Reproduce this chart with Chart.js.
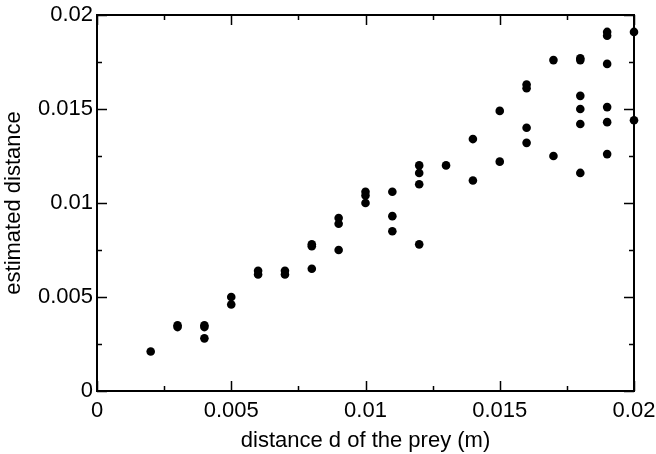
<!DOCTYPE html>
<html>
<head>
<meta charset="utf-8">
<script src="https://cdn.jsdelivr.net/npm/chart.js@4/dist/chart.umd.min.js"></script>
<style>
    html, body { margin: 0; padding: 0; background: #ffffff; }
    #cadre { width: 656px; height: 454px; }
</style>
</head>
<body>
<div id="cadre"><canvas id="g_prey"></canvas></div>
<script>
//Les données
const distanceReelle = [
    0.002,
    0.003, 0.003,
    0.004, 0.004, 0.004,
    0.005, 0.005,
    0.006, 0.006,
    0.007, 0.007,
    0.008, 0.008, 0.008,
    0.009, 0.009, 0.009,
    0.010, 0.010, 0.010,
    0.011, 0.011, 0.011,
    0.012, 0.012, 0.012, 0.012,
    0.013,
    0.014, 0.014,
    0.015, 0.015,
    0.016, 0.016, 0.016, 0.016,
    0.017, 0.017,
    0.018, 0.018, 0.018, 0.018, 0.018, 0.018,
    0.019, 0.019, 0.019, 0.019, 0.019, 0.019,
    0.020, 0.020
];
const distanceEstimee = [
    0.0021,
    0.0035, 0.0034,
    0.0035, 0.0034, 0.0028,
    0.0050, 0.0046,
    0.0064, 0.0062,
    0.0064, 0.0062,
    0.0078, 0.0077, 0.0065,
    0.0092, 0.0089, 0.0075,
    0.0106, 0.0104, 0.0100,
    0.0106, 0.0093, 0.0085,
    0.0120, 0.0116, 0.0110, 0.0078,
    0.0120,
    0.0134, 0.0112,
    0.0149, 0.0122,
    0.0163, 0.0161, 0.0140, 0.0132,
    0.0176, 0.0125,
    0.0177, 0.0176, 0.0157, 0.0150, 0.0142, 0.0116,
    0.0191, 0.0189, 0.0174, 0.0151, 0.0143, 0.0126,
    0.0191, 0.0144
];
const xTickLabels = ["0", "0.005", "0.01", "0.015", "0.02"];
const yTickLabels = ["0", "0.005", "0.01", "0.015", "0.02"];
const xTitre = "distance d of the prey (m)";
const yTitre = "estimated distance";

const police = "'Liberation Sans', Arial, Helvetica, sans-serif";

//plugin qui dessine le cadre et les graduations vers l'intérieur
const cadrePlugin = {
    id: "cadre",
    afterDatasetsDraw(chart) {
        const ctx = chart.ctx;
        const a = chart.chartArea;
        const sx = chart.scales.x;
        const sy = chart.scales.y;
        ctx.save();
        ctx.strokeStyle = "#000000";
        ctx.lineWidth = 2;
        ctx.strokeRect(a.left, a.top, a.right - a.left, a.bottom - a.top);
        ctx.lineWidth = 1.5;
        ctx.beginPath();
        for (let i = 0; i <= 8; i++) {
            const v = i * 0.0025;
            const len = (i % 2 === 0) ? 10 : 5;
            const px = Math.round(sx.getPixelForValue(v)) + 0.5;
            ctx.moveTo(px, a.bottom); ctx.lineTo(px, a.bottom - len);
            ctx.moveTo(px, a.top); ctx.lineTo(px, a.top + len);
            const py = Math.round(sy.getPixelForValue(v)) + 0.5;
            ctx.moveTo(a.left, py); ctx.lineTo(a.left + len, py);
            ctx.moveTo(a.right, py); ctx.lineTo(a.right - len, py);
        }
        ctx.stroke();
        ctx.restore();
    }
};

function graphe() {
    const ctx = document.getElementById("g_prey").getContext("2d");
    const points = distanceReelle.map(function(x, i) {
        return { x: x, y: distanceEstimee[i] };
    });
    const config = {
        type: "scatter",
        data: {
            datasets: [{
                data: points,
                backgroundColor: "#000000",
                borderColor: "#000000",
                borderWidth: 0,
                pointRadius: 4.3,
                pointHoverRadius: 4.3,
                clip: false
            }]
        },
        options: {
            responsive: true,
            maintainAspectRatio: false,
            animation: false,
            layout: { padding: { left: 0, right: 22, top: 15, bottom: 0 } },
            plugins: {
                legend: { display: false },
                tooltip: { enabled: false }
            },
            scales: {
                x: {
                    type: "linear",
                    min: 0,
                    max: 0.02,
                    grid: { display: false, drawTicks: false },
                    border: { display: false },
                    ticks: {
                        stepSize: 0.005,
                        padding: 7,
                        color: "#000000",
                        maxRotation: 0,
                        font: { family: police, size: 22 },
                        callback: function(v, i) { return xTickLabels[i]; }
                    },
                    title: {
                        display: true,
                        text: xTitre,
                        color: "#000000",
                        padding: { top: 0, bottom: 0 },
                        font: { family: police, size: 22 }
                    },
                    afterFit: function(scale) {
                        scale.height = 63;
                        scale.paddingLeft = 0;
                        scale.paddingRight = 0;
                    }
                },
                y: {
                    type: "linear",
                    min: 0,
                    max: 0.02,
                    grid: { display: false, drawTicks: false },
                    border: { display: false },
                    ticks: {
                        stepSize: 0.005,
                        padding: 4,
                        color: "#000000",
                        font: { family: police, size: 22 },
                        callback: function(v, i) { return yTickLabels[i]; }
                    },
                    title: {
                        display: true,
                        text: yTitre,
                        color: "#000000",
                        padding: { top: 1, bottom: 0 },
                        font: { family: police, size: 22 }
                    },
                    afterFit: function(scale) {
                        scale.width = 97;
                        scale.paddingTop = 0;
                        scale.paddingBottom = 0;
                    }
                }
            }
        },
        plugins: [cadrePlugin]
    };
    new Chart(ctx, config);
}

window.addEventListener("load", () => {
    graphe();
});
</script>
</body>
</html>
